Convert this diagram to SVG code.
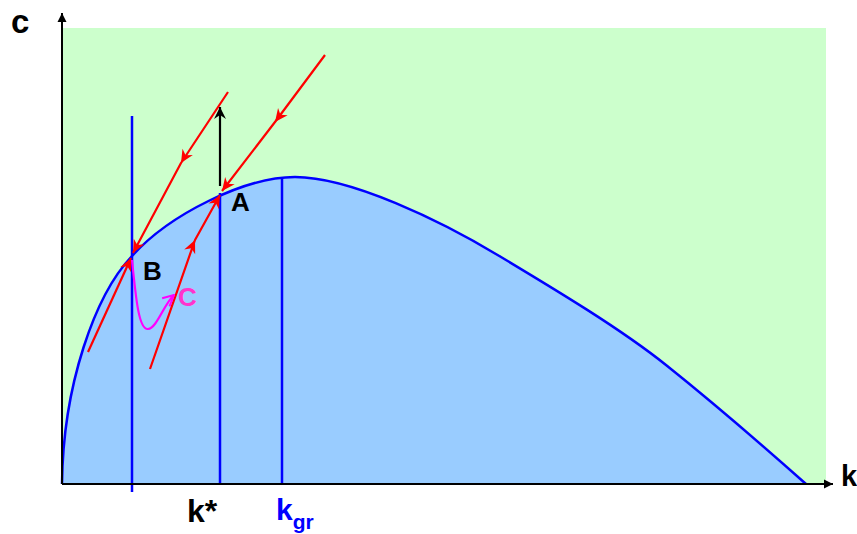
<svg xmlns="http://www.w3.org/2000/svg" width="857" height="534" viewBox="0 0 857 534">
  <style>
    .lbl { font-family: "Liberation Sans", Arial, sans-serif; font-weight: bold; }
    .blk { fill: #000000; }
    .blue { fill: #0000FF; }
    .vline { stroke: #0000FF; stroke-width: 2.5; fill: none; }
    .traj { stroke: #FF0000; stroke-width: 2.2; fill: none; stroke-linejoin: round; }
    .axis { stroke: #000000; stroke-width: 2; fill: none; }
  </style>
  <defs>
    <marker id="stealthRed" markerUnits="userSpaceOnUse" viewBox="-14 -7 15 14" refX="0" refY="0" markerWidth="15" markerHeight="14" orient="auto">
      <path d="M0,0 L-13,-6 L-9,0 L-13,6 Z" fill="#FF0000"/>
    </marker>
    <marker id="stealthBlack" markerUnits="userSpaceOnUse" viewBox="-14 -7 15 14" refX="0" refY="0" markerWidth="15" markerHeight="14" orient="auto">
      <path d="M0,0 L-12,-6 L-8,0 L-12,6 Z" fill="#000000"/>
    </marker>
    <marker id="axisArrow" markerUnits="userSpaceOnUse" viewBox="-10 -5 11 10" refX="0" refY="0" markerWidth="11" markerHeight="10" orient="auto">
      <path d="M0,0 L-9,-4.5 L-9,4.5 Z" fill="#000000"/>
    </marker>
    <marker id="openMagenta" markerUnits="userSpaceOnUse" viewBox="-12 -7 13 14" refX="0" refY="0" markerWidth="13" markerHeight="14" orient="auto">
      <path d="M-11,-5.5 L0,0 L-11,5.5" fill="none" stroke="#FF00FF" stroke-width="2"/>
    </marker>
    <path id="cpath" d="M62,484 C63,385 95,295 132,256 C170,214 245,177 295,177 C350,177 440,220 501,257 C556,290 621,329 666,365 C711,401 770,452 806,484"/>
  </defs>

  <rect width="857" height="534" fill="#FFFFFF"/>

  <g id="region-above">
    <rect x="63" y="28" width="763" height="456" fill="#CCFFCC"/>
  </g>

  <g id="region-below">
    <path d="M62,484 C63,385 95,295 132,256 C170,214 245,177 295,177 C350,177 440,220 501,257 C556,290 621,329 666,365 C711,401 770,452 806,484 Z" fill="#99CCFF"/>
  </g>

  <g id="verticals">
    <line class="vline" x1="132" y1="116" x2="132" y2="492"/>
    <line class="vline" x1="220" y1="193" x2="220" y2="484"/>
    <line class="vline" x1="282" y1="177.5" x2="282" y2="484"/>
  </g>

  <g id="curve">
    <use href="#cpath" fill="none" stroke="#0000FF" stroke-width="2.5"/>
  </g>

  <g id="axes">
    <line class="axis" x1="62" y1="484" x2="62" y2="13" marker-end="url(#axisArrow)"/>
    <line class="axis" x1="62" y1="484" x2="833" y2="484" marker-end="url(#axisArrow)"/>
  </g>

  <g id="connectors">
    <path class="traj" d="M228,92 L181,163 L133,253" marker-mid="url(#stealthRed)" marker-end="url(#stealthRed)"/>
    <path class="traj" d="M88,352 L131,258" marker-end="url(#stealthRed)"/>
    <path class="traj" d="M325,55 L275,122 L222,191" marker-mid="url(#stealthRed)" marker-end="url(#stealthRed)"/>
    <path class="traj" d="M150,369 L195,240 L220,195" marker-mid="url(#stealthRed)" marker-end="url(#stealthRed)"/>
    <path d="M220,186 L220,107" stroke="#000000" stroke-width="2.2" fill="none" marker-end="url(#stealthBlack)"/>
    <path d="M132,260 C136,300 139,330 148,329 C157,328 164,304 174,295" stroke="#FF00FF" stroke-width="2.2" fill="none" marker-end="url(#openMagenta)"/>
  </g>

  <g id="labels">
    <text class="lbl blk" x="11" y="33" font-size="33">c</text>
    <text class="lbl blk" x="841" y="486" font-size="29">k</text>
    <text class="lbl blk" x="231" y="211" font-size="26">A</text>
    <text class="lbl blk" x="143" y="280" font-size="26">B</text>
    <text class="lbl" x="178" y="306" font-size="26" fill="#FF33CC">C</text>
    <text class="lbl blk" x="187" y="522" font-size="32">k*</text>
    <text class="lbl blue" x="276" y="520" font-size="30">k<tspan font-size="21" dy="9">gr</tspan></text>
  </g>
</svg>
